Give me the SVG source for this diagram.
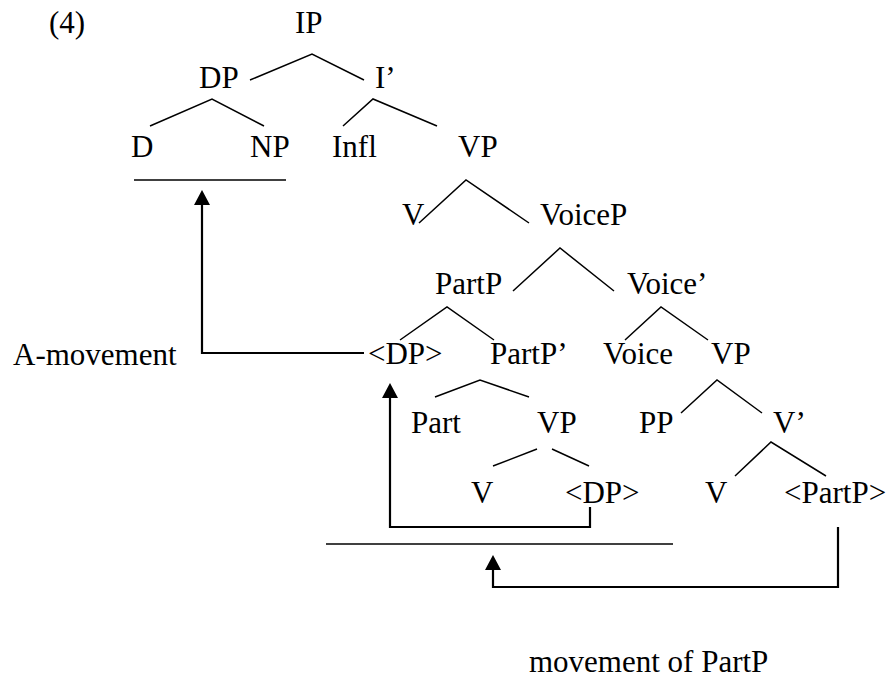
<svg xmlns="http://www.w3.org/2000/svg" width="891" height="678" viewBox="0 0 891 678">
<style>
text{font-family:'Liberation Serif','Tinos','Times New Roman','Times','Noto Serif','FreeSerif','DejaVu Serif',serif;font-size:31px;fill:#000}
.br{fill:none;stroke:#000;stroke-width:1.5}
.bar{fill:none;stroke:#000;stroke-width:1.7}
.mv{fill:none;stroke:#000;stroke-width:2.2;marker-end:url(#ah)}
</style>
<defs>
<marker id="ah" viewBox="0 0 16 16" refX="0" refY="8" markerWidth="16" markerHeight="16" markerUnits="userSpaceOnUse" orient="auto">
<path d="M0,0 L15,8 L0,16 z" fill="#000"/>
</marker>
</defs>
<rect width="891" height="678" fill="#fff"/>
<g id="label-4"><text x="49" y="33">(4)</text></g>
<g id="IP"><text x="295" y="33">IP</text></g>
<g id="DP"><text x="199" y="88">DP</text></g>
<g id="Ibar"><text x="375" y="88">I’</text></g>
<g id="D"><text x="131" y="157">D</text></g>
<g id="NP"><text x="250" y="157">NP</text></g>
<g id="Infl"><text x="332" y="157">Infl</text></g>
<g id="VP1"><text x="458" y="157">VP</text></g>
<g id="V1"><text x="402" y="225">V</text></g>
<g id="VoiceP"><text x="540" y="225">VoiceP</text></g>
<g id="PartP"><text x="435" y="294">PartP</text></g>
<g id="Voicebar"><text x="627" y="294">Voice’</text></g>
<g id="A-movement"><text x="13" y="365">A-movement</text></g>
<g id="DP-trace1"><text x="368" y="364">&lt;DP&gt;</text></g>
<g id="PartPbar"><text x="490" y="364">PartP’</text></g>
<g id="Voice"><text x="603" y="364">Voice</text></g>
<g id="VP2"><text x="711" y="364">VP</text></g>
<g id="Part"><text x="411" y="433">Part</text></g>
<g id="VP3"><text x="537" y="433">VP</text></g>
<g id="PP"><text x="639" y="433">PP</text></g>
<g id="Vbar"><text x="773" y="433">V’</text></g>
<g id="V2"><text x="471" y="503">V</text></g>
<g id="DP-trace2"><text x="565" y="503">&lt;DP&gt;</text></g>
<g id="V3"><text x="705" y="503">V</text></g>
<g id="PartP-trace"><text x="784" y="503">&lt;PartP&gt;</text></g>
<g id="movement-of-PartP"><text x="529" y="672">movement of PartP</text></g>
<g id="connectors">
<polyline class="br" points="250,80 312,54 364,80"/>
<polyline class="br" points="150,126 212,99 264,126"/>
<polyline class="br" points="343,126 373,99 437,126"/>
<polyline class="br" points="419,223 466,180 529,223"/>
<polyline class="br" points="513,291 560,248 614,291"/>
<polyline class="br" points="400,340 447,307 494,340"/>
<polyline class="br" points="625,340 661,307 708,340"/>
<polyline class="br" points="435,397 480,380 529,397"/>
<polyline class="br" points="681,413 717,380 762,413"/>
<line class="br" x1="493" y1="466" x2="537" y2="449"/>
<line class="br" x1="552" y1="449" x2="589" y2="466"/>
<polyline class="br" points="735,476 771,442 826,476"/>
<line class="bar" x1="134" y1="180" x2="286" y2="180"/>
<line class="bar" x1="326" y1="544" x2="673" y2="544"/>
<path class="mv" d="M364,353 H202 V205"/>
<path class="mv" d="M590,507 V527 H390 V398"/>
<path class="mv" d="M838,527 V587 H493 V570"/>
</g>
</svg>
